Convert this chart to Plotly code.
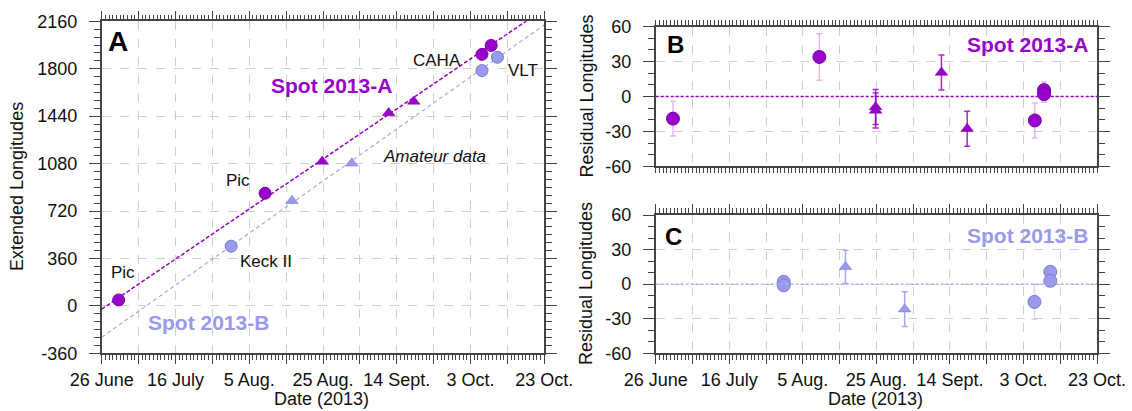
import plotly.graph_objects as go

W, H = 1132, 411
PURPLE = "#9900cc"
PURPLE_EDGE = "#7a00a6"
BLUE = "#9999ee"
BLUE_EDGE = "#7b7bd0"
FONT = "Liberation Sans, Arial, sans-serif"

# ---- data (days counted from 26 June 2013) ----
tick_days = [0, 10, 20, 30, 40, 50, 60, 70, 80, 90, 100, 110, 120]
tick_text = ["26 June", "", "16 July", "", "5 Aug.", "", "25 Aug.", "", "14 Sept.", "", "3 Oct.", "", "23 Oct."]
lon_ticks = [-360, 0, 360, 720, 1080, 1440, 1800, 2160]
lon_text = ["-360", "0", "360", "720", "1080", "1440", "1800", "2160"]
res_ticks = [-60, -30, 0, 30, 60]
res_text = ["-60", "-30", "0", "30", "60"]

# Panel A: extended longitudes
a_circ_days = [4.6, 44.3, 103.1, 105.6]
a_circ_lon = [45, 855, 1909, 1977]
a_tri_days = [59.8, 77.8, 84.6]
a_tri_lon = [1096, 1464, 1552]
b_circ_days = [35.1, 103.1, 107.3]
b_circ_lon = [453, 1786, 1887]
b_tri_days = [51.6, 67.8]
b_tri_lon = [798, 1082]
fit_days = [0, 120]
fitA_lon = [-25, 2255]
fitB_lon = [-238, 2133]

# Panel B: residuals Spot 2013-A
rA_circ_days = [4.7, 44.5, 103.1, 105.6, 105.6]
rA_circ_res = [-19, 34, -20.6, 5.5, 2]
rA_circ_err = [15, 20, 15, 7, 7]
rA_tri_days = [59.8, 59.8, 77.7, 84.7]
rA_tri_res = [-9, -12, 20.6, -27.7]
rA_tri_err = [15, 15, 15, 15]

# Panel C: residuals Spot 2013-B
rB_circ_days = [34.8, 34.8, 103.0, 107.3, 107.3]
rB_circ_res = [2, -1, -15.4, 10.7, 2.9]
rB_circ_err = [1, 1, 15, 2, 2]
rB_tri_days = [51.6, 67.7]
rB_tri_res = [15, -21.7]
rB_tri_err = [14.5, 15]


def px(x):
    return x / W


def py(y):
    return 1 - y / H


fig = go.Figure()

# ---- Panel A ----
fig.add_trace(go.Scatter(x=fit_days, y=fitA_lon, mode="lines", xaxis="x", yaxis="y",
                         line=dict(color=PURPLE, width=1.5, dash="4px,2px")))
fig.add_trace(go.Scatter(x=fit_days, y=fitB_lon, mode="lines", xaxis="x", yaxis="y",
                         line=dict(color="#a8a8f2", width=1.2, dash="4px,3px")))
fig.add_trace(go.Scatter(x=b_circ_days, y=b_circ_lon, mode="markers", xaxis="x", yaxis="y",
                         marker=dict(symbol="circle", size=12, color=BLUE, line=dict(color=BLUE_EDGE, width=1))))
fig.add_trace(go.Scatter(x=b_tri_days, y=b_tri_lon, mode="markers", xaxis="x", yaxis="y",
                         marker=dict(symbol="triangle-up", size=11, color=BLUE, line=dict(color=BLUE_EDGE, width=0.5))))
fig.add_trace(go.Scatter(x=a_circ_days, y=a_circ_lon, mode="markers", xaxis="x", yaxis="y",
                         marker=dict(symbol="circle", size=12, color=PURPLE, line=dict(color=PURPLE_EDGE, width=1))))
fig.add_trace(go.Scatter(x=a_tri_days, y=a_tri_lon, mode="markers", xaxis="x", yaxis="y",
                         marker=dict(symbol="triangle-up", size=11, color=PURPLE, line=dict(color=PURPLE_EDGE, width=0.5))))

# ---- Panel B ----
fig.add_trace(go.Scatter(x=rA_circ_days, y=rA_circ_res, mode="markers", xaxis="x2", yaxis="y2",
                         error_y=dict(type="data", array=rA_circ_err, color="rgba(153,0,204,0.28)", thickness=1.5, width=3),
                         marker=dict(symbol="circle", size=13, color=PURPLE, line=dict(color=PURPLE_EDGE, width=1))))
fig.add_trace(go.Scatter(x=rA_tri_days, y=rA_tri_res, mode="markers", xaxis="x2", yaxis="y2",
                         error_y=dict(type="data", array=rA_tri_err, color="rgba(153,0,204,0.85)", thickness=1.5, width=3),
                         marker=dict(symbol="triangle-up", size=11, color=PURPLE, line=dict(color=PURPLE_EDGE, width=0.5))))

# ---- Panel C ----
fig.add_trace(go.Scatter(x=rB_circ_days, y=rB_circ_res, mode="markers", xaxis="x3", yaxis="y3",
                         error_y=dict(type="data", array=rB_circ_err, color="rgba(153,153,238,0.35)", thickness=1.5, width=3),
                         marker=dict(symbol="circle", size=13, color=BLUE, line=dict(color=BLUE_EDGE, width=1))))
fig.add_trace(go.Scatter(x=rB_tri_days, y=rB_tri_res, mode="markers", xaxis="x3", yaxis="y3",
                         error_y=dict(type="data", array=rB_tri_err, color="rgba(153,153,238,0.85)", thickness=1.5, width=3),
                         marker=dict(symbol="triangle-up", size=11, color=BLUE, line=dict(color=BLUE_EDGE, width=0.5))))

# zero lines
fig.add_shape(type="line", xref="x2 domain", yref="y2", x0=0, x1=1, y0=0, y1=0,
              line=dict(color=PURPLE, width=1.3, dash="3px,2px"))
fig.add_shape(type="line", xref="x3 domain", yref="y3", x0=0, x1=1, y0=0, y1=0,
              line=dict(color="#a8a8f2", width=1.3, dash="3px,2px"))

AX = "#444444"
tickfont = dict(family=FONT, size=18, color="#111111")


def xaxis(domain, anchor, labels=True):
    return dict(domain=domain, anchor=anchor, range=[0, 120], tickmode="array", automargin=False,
                tickvals=tick_days, ticktext=tick_text if labels else [""] * len(tick_days),
                showticklabels=labels, ticks="outside", ticklen=9, tickwidth=1, tickcolor=AX,
                showline=True, linecolor=AX, linewidth=1.5, mirror="ticks",
                showgrid=True, gridcolor="#cfcfcf", griddash="dash", gridwidth=1,
                zeroline=False, tickfont=tickfont, ticklabelstandoff=0,
                minor=dict(tickmode="linear", tick0=0, dtick=1, ticks="outside", ticklen=5,
                           tickcolor=AX, tickwidth=1, showgrid=False))


def yaxis(domain, anchor, rng, tv, tt, mdtick):
    return dict(domain=domain, anchor=anchor, range=rng, tickmode="array", tickvals=tv, ticktext=tt,
                automargin=False,
                ticks="outside", ticklen=11, tickwidth=1, tickcolor=AX,
                showline=True, linecolor=AX, linewidth=1.5, mirror="ticks",
                showgrid=True, gridcolor="#cfcfcf", griddash="dash", gridwidth=1,
                zeroline=False, tickfont=tickfont, ticklabelstandoff=8,
                minor=dict(tickmode="linear", tick0=0, dtick=mdtick, ticks="outside", ticklen=6,
                           tickcolor=AX, tickwidth=1, showgrid=False))


fig.update_layout(
    template="none",
    width=W, height=H, margin=dict(l=0, r=0, t=0, b=0, autoexpand=False),
    paper_bgcolor="white", plot_bgcolor="white", showlegend=False,
    font=dict(family=FONT, size=18, color="#111111"),
    xaxis=xaxis([px(101.7), px(544.3)], "y"),
    yaxis=yaxis([py(353.3), py(21.3)], "x", [-360, 2160], lon_ticks, lon_text, 60),
    xaxis2=xaxis([px(655.7), px(1097)], "y2", labels=False),
    yaxis2=yaxis([py(166.3), py(26.7)], "x2", [-60, 60], res_ticks, res_text, 10),
    xaxis3=xaxis([px(655.7), px(1097)], "y3"),
    yaxis3=yaxis([py(353.3), py(215)], "x3", [-60, 60], res_ticks, res_text, 10),
)


def ann(text, x, y, size=17, color="#111111", bold=False, italic=False, angle=0, xanchor="center"):
    t = text
    if bold:
        t = "<b>" + t + "</b>"
    if italic:
        t = "<i>" + t + "</i>"
    fig.add_annotation(text=t, x=px(x), y=py(y), xref="paper", yref="paper", showarrow=False,
                       xanchor=xanchor, yanchor="middle", textangle=angle,
                       font=dict(family=FONT, size=size, color=color))


# axis titles
ann("Extended Longitudes", 17, 187, size=18, angle=-90)
ann("Residual Longitudes", 586, 96.5, size=18, angle=-90)
ann("Residual Longitudes", 586, 284, size=18, angle=-90)
ann("Date (2013)", 321, 399, size=18)
ann("Date (2013)", 875, 399, size=18)

# panel A labels
ann("A", 118, 42, size=28, color="#000000", bold=True)
ann("Spot 2013-A", 331, 86, size=21, color=PURPLE, bold=True)
ann("Spot 2013-B", 208, 322, size=21, color=BLUE, bold=True)
ann("CAHA", 437, 60)
ann("VLT", 523, 70)
ann("Amateur data", 434, 156, italic=True)
ann("Pic", 238, 180)
ann("Pic", 123, 272)
ann("Keck II", 266, 261)

# panel B / C labels
ann("B", 675, 45, size=24, color="#000000", bold=True)
ann("Spot 2013-A", 1090, 45, size=21, color=PURPLE, bold=True, xanchor="right")
ann("C", 673, 237, size=24, color="#000000", bold=True)
ann("Spot 2013-B", 1090, 236, size=21, color=BLUE, bold=True, xanchor="right")

fig.write_html("out.html")
